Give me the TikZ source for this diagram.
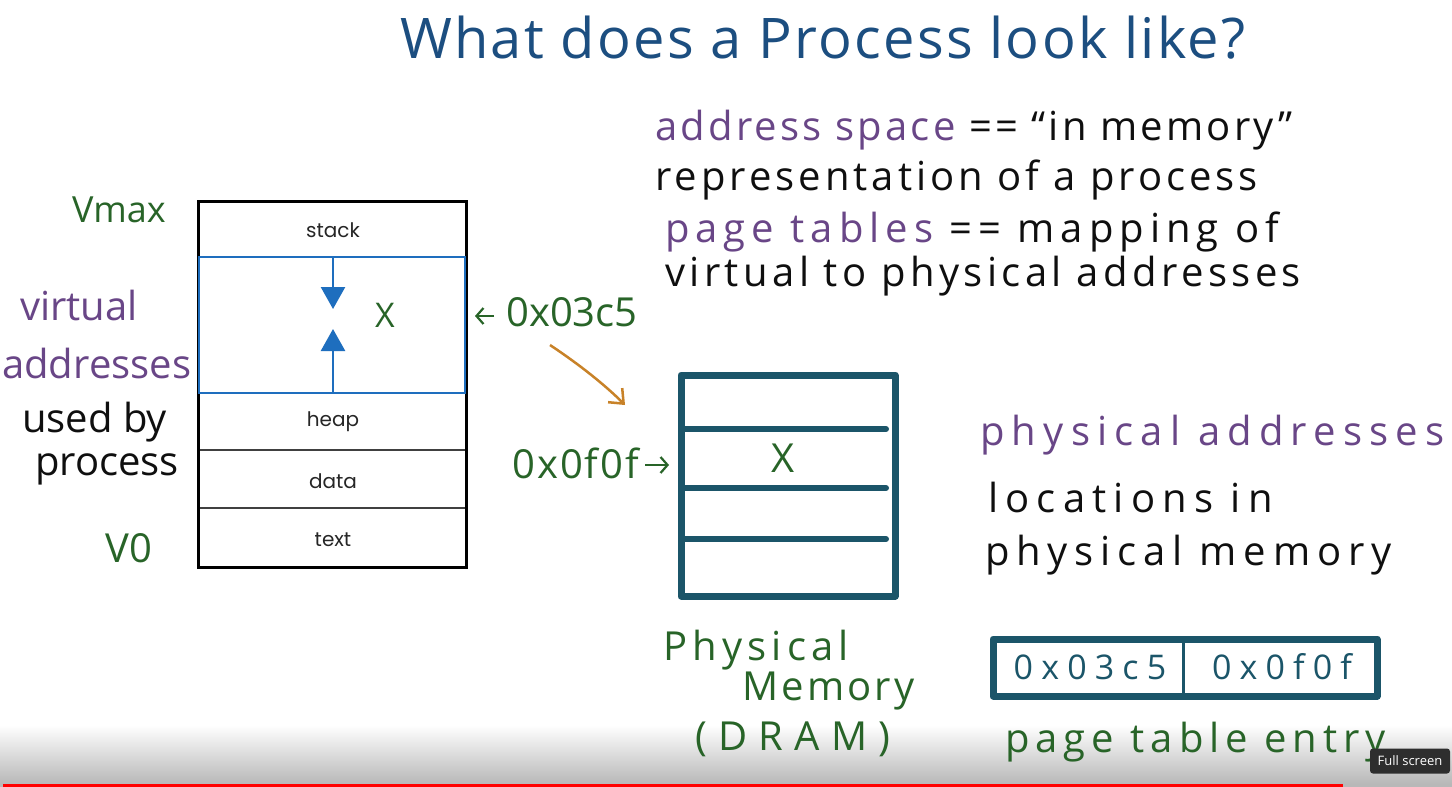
\documentclass[tikz,border=0pt]{standalone}
\usepackage{fontspec}
\setmainfont{Open Sans}
\newfontfamily\hand{Open Sans}
\newfontfamily\geo{Poppins}
\usetikzlibrary{arrows.meta,shadings}
\definecolor{titleblue}{RGB}{28,78,128}
\definecolor{hgreen}{RGB}{40,100,40}
\definecolor{hpurple}{RGB}{105,70,135}
\definecolor{teal}{RGB}{27,85,105}
\definecolor{boxblue}{RGB}{30,110,190}
\definecolor{arrorange}{RGB}{200,130,40}
\definecolor{hblack}{RGB}{15,15,15}
\newcommand{\lsp}[1]{\addfontfeatures{LetterSpace=#1}}
\tikzset{
  hw/.style={font=\hand\fontsize{40}{48}\selectfont, inner sep=0pt, anchor=base west},
  geolbl/.style={font=\geo\fontsize{20}{24}\selectfont, inner sep=0pt, text=black!85},
  vline/.style={line width=3pt, black},
  sep/.style={line width=1.6pt, black!75},
  pmline/.style={line width=6pt, teal, line cap=round},
  bluearr/.style={line width=2.5pt, boxblue, -{Triangle[length=22pt,width=24pt]}},
  greenarr/.style={line width=2.2pt, hgreen, -{Straight Barb[length=7pt,width=16pt]}},
}
\begin{document}
\begin{tikzpicture}[x=1pt,y=-1pt]
\useasboundingbox (0,0) rectangle (1452,787);
\fill[white] (0,0) rectangle (1452,787);
% bottom player bar
\shade[top color=white, bottom color=black!28] (0,725) rectangle (1452,784);
\fill[black!28] (0,784) rectangle (1452,787);
\fill[red] (3,783.5) rectangle (1343,787);

% title
\node[hw, font=\hand\fontsize{56}{64}\selectfont\lsp{4}, text=titleblue] (title) at (400,58) {What does a Process look like?};

% virtual address space box
\coordinate (vtl) at (198,201);
\coordinate (vbr) at (466,567);
\draw[sep] (198,450) -- (466,450);
\draw[sep] (198,508) -- (466,508);
\draw[vline] (vtl) rectangle (vbr);
\draw[line width=2.5pt, boxblue] (199,257) rectangle (465,393);
\node[geolbl] (stack) at (333,230) {stack};
\node[geolbl] (heap) at (333,422) {heap};
\node[geolbl] (data) at (333,481) {data};
\node[geolbl] (text) at (333,540) {text};
\coordinate (stacktop) at (333,257);
\coordinate (downtip) at (333,309);
\coordinate (heaptop) at (333,393);
\coordinate (uptip) at (333,329);
\draw[bluearr] (stacktop) -- (downtip);
\draw[bluearr] (heaptop) -- (uptip);
\node[font=\hand\fontsize{34}{40}\selectfont, text=hgreen, inner sep=0pt] (vx) at (385,315) {X};

% left labels
\node[hw, font=\hand\fontsize{36}{44}\selectfont, text=hgreen] (vmax) at (72,222) {Vmax};
\node[hw, text=hpurple] (virt) at (20,320) {virtual};
\node[hw, text=hpurple] (addr) at (2,378) {addresses};
\node[hw, text=hblack] (used) at (22,432) {used by};
\node[hw, text=hblack] (proc) at (35,475) {process};
\node[hw, text=hgreen] (v0) at (105,562) {V0};

% virtual address label
\node[hw, text=hgreen] (va) at (506,326) {0x03c5};
\coordinate (vatip) at (475,316);
\draw[greenarr] (va.west) ++(-12pt,0) coordinate (vastart) (vastart |- vatip) -- (vatip);
\coordinate (oa) at (550,345);
\coordinate (ob) at (625,405);
\draw[line width=2.5pt, arrorange, -{Straight Barb[length=12pt,width=20pt]}] (oa) .. controls (580,365) and (605,385) .. (ob);

% physical memory
\draw[line width=7pt, teal, line join=round] (681,375) rectangle (895,596);
\draw[pmline] (681,429) -- (886,429);
\draw[pmline] (681,488) -- (886,488);
\draw[pmline] (681,539) -- (886,539);
\node[font=\hand\fontsize{40}{48}\selectfont, text=hgreen, inner sep=0pt] (px) at (783,458) {X};
\node[hw, font=\hand\fontsize{40}{48}\selectfont\lsp{5}, text=hgreen] (pa) at (512,478) {0x0f0f};
\coordinate (patip) at (669,465);
\draw[greenarr] (pa.east |- patip) ++(6pt,0) -- (patip);
\node[hw, font=\hand\fontsize{40}{48}\selectfont\lsp{13}, text=hgreen] (phys) at (663,660) {Physical};
\node[hw, font=\hand\fontsize{40}{48}\selectfont\lsp{8}, text=hgreen] (mem) at (742,700) {Memory};
\node[hw, font=\hand\fontsize{40}{48}\selectfont\lsp{28}, text=hgreen] (dram) at (695,750) {(DRAM)};

% right text
\node[hw, font=\hand\fontsize{40}{48}\selectfont\lsp{8}] (l1) at (655,140) {\textcolor{hpurple}{address space} \textcolor{hblack}{== “in memory”}};
\node[hw, font=\hand\fontsize{40}{48}\selectfont\lsp{10}, text=hblack] (l2) at (655,190) {representation of a process};
\node[hw, font=\hand\fontsize{40}{48}\selectfont\lsp{15}] (l3) at (665,242) {\textcolor{hpurple}{page tables} \textcolor{hblack}{== mapping of}};
\node[hw, font=\hand\fontsize{40}{48}\selectfont\lsp{11}, text=hblack] (l4) at (665,286) {virtual to physical addresses};
\node[hw, font=\hand\fontsize{40}{48}\selectfont\lsp{18}, text=hpurple] (l5) at (980,445) {physical addresses};
\node[hw, font=\hand\fontsize{40}{48}\selectfont\lsp{18}, text=hblack] (l6) at (988,512) {locations in};
\node[hw, font=\hand\fontsize{40}{48}\selectfont\lsp{17}, text=hblack] (l7) at (985,565) {physical memory};

% page table entry
\draw[line width=7pt, teal, line join=round] (993,639) rectangle (1377,696);
\draw[line width=3pt, teal] (1183,639) -- (1183,696);
\node[font=\hand\fontsize{34}{40}\selectfont\lsp{24}, text=teal, inner sep=0pt] (pte1) at (1090,667) {0x03c5};
\node[font=\hand\fontsize{34}{40}\selectfont\lsp{24}, text=teal, inner sep=0pt] (pte2) at (1282,667) {0x0f0f};
\node[hw, font=\hand\fontsize{40}{48}\selectfont\lsp{15}, text=hgreen] (ptel) at (1005,752) {page table entry};

% tooltip
\node[fill=black!82, rounded corners=3pt, text=white, font=\fontsize{13}{15}\selectfont, minimum width=80pt, minimum height=25pt, inner sep=2pt] (fs) at (1410,761) {Full screen};
\end{tikzpicture}
\end{document}
